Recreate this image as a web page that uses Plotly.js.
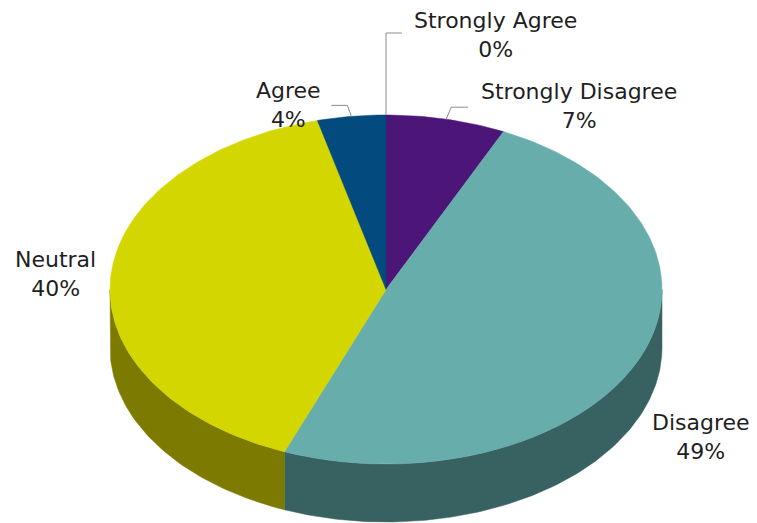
<!DOCTYPE html>
<html>
<head>
<meta charset="utf-8">
<script src="https://cdn.plot.ly/plotly-3.0.1.min.js"></script>
<style>html,body{margin:0;padding:0;background:#fff;}#chart{width:757px;height:523px;}</style>
</head>
<body>
<div id="chart"></div>
<script>
// ---- data ----
const categories = ["Strongly Agree", "Strongly Disagree", "Disagree", "Neutral", "Agree"];
const values = [0, 7, 49, 40, 4];
const topColors = ["#9a9a9a", "#4c1679", "#67adab", "#d4d600", "#034a7e"];
const sideColors = ["#6a6a6a", "#2e0d4a", "#386262", "#7c7b00", "#022f52"];

// ---- geometry / layout constants ----
const CX = 386, CY = 289.5, RX = 276, RY = 174.5, DEPTH = 58;
const labelPos = {
  "Strongly Agree":    {x: 495, y: 35,  leader: [[0, -82], [16, -82]]},
  "Strongly Disagree": {x: 579, y: 106, leader: [[5, -12], [22, -12]]},
  "Disagree":          {x: 701, y: 437, leader: null},
  "Neutral":           {x: 55,  y: 274, leader: null},
  "Agree":             {x: 288, y: 105, leader: [[-4, -11], [-20, -11]]}
};

function pt(thetaDeg, dy) {
  const t = thetaDeg * Math.PI / 180;
  return [CX + RX * Math.sin(t), CY - RY * Math.cos(t) + (dy || 0)];
}

const total = values.reduce((a, b) => a + b, 0);
const sideTraces = [], topTraces = [], leaderTraces = [], annotations = [];
let cum = 0;
categories.forEach((cat, i) => {
  const a0 = cum / total * 360;
  cum += values[i];
  const a1 = cum / total * 360;
  // side (front visible part: 90..270)
  const s0 = Math.max(a0, 90), s1 = Math.min(a1, 270);
  if (s1 > s0) {
    const xs = [], ys = [];
    const n = Math.max(2, Math.ceil((s1 - s0) / 1));
    for (let k = 0; k <= n; k++) { const p = pt(s0 + (s1 - s0) * k / n, 0); xs.push(p[0]); ys.push(p[1]); }
    for (let k = n; k >= 0; k--) { const p = pt(s0 + (s1 - s0) * k / n, DEPTH); xs.push(p[0]); ys.push(p[1]); }
    xs.push(xs[0]); ys.push(ys[0]);
    sideTraces.push({type: "scatter", mode: "lines", x: xs, y: ys, fill: "toself",
      fillcolor: sideColors[i], line: {color: sideColors[i], width: 0.5}, hoverinfo: "skip", showlegend: false});
  }
  // top face
  if (a1 > a0) {
    const xs = [CX], ys = [CY];
    const n = Math.max(2, Math.ceil((a1 - a0) / 1));
    for (let k = 0; k <= n; k++) { const p = pt(a0 + (a1 - a0) * k / n, 0); xs.push(p[0]); ys.push(p[1]); }
    xs.push(CX); ys.push(CY);
    topTraces.push({type: "scatter", mode: "lines", x: xs, y: ys, fill: "toself",
      fillcolor: topColors[i], line: {color: topColors[i], width: 0.5}, name: cat,
      text: cat + ": " + values[i] + "%", hoverinfo: "text", showlegend: false});
  }
  // label + leader
  const lp = labelPos[cat];
  const mid = (a0 + a1) / 2;
  if (lp.leader) {
    const p0 = pt(mid, 0);
    const xs = [p0[0]], ys = [p0[1]];
    lp.leader.forEach(d => { xs.push(p0[0] + d[0]); ys.push(p0[1] + d[1]); });
    leaderTraces.push({type: "scatter", mode: "lines", x: xs, y: ys,
      line: {color: "#8c8c8c", width: 1}, hoverinfo: "skip", showlegend: false});
  }
  annotations.push({x: lp.x, y: lp.y, xref: "x", yref: "y", xanchor: "center", yanchor: "middle",
    showarrow: false, text: cat + "<br>" + values[i] + "%",
    font: {family: "DejaVu Sans, Verdana, sans-serif", size: 22, color: "#1e1e1e"}});
});

const layout = {
  width: 757, height: 523,
  margin: {l: 0, r: 0, t: 0, b: 0},
  paper_bgcolor: "#ffffff", plot_bgcolor: "#ffffff",
  xaxis: {range: [0, 757], visible: false, fixedrange: true},
  yaxis: {range: [523, 0], visible: false, fixedrange: true},
  annotations: annotations,
  showlegend: false
};

Plotly.newPlot("chart", sideTraces.concat(topTraces, leaderTraces), layout, {displayModeBar: false, staticPlot: true});
</script>
</body>
</html>
